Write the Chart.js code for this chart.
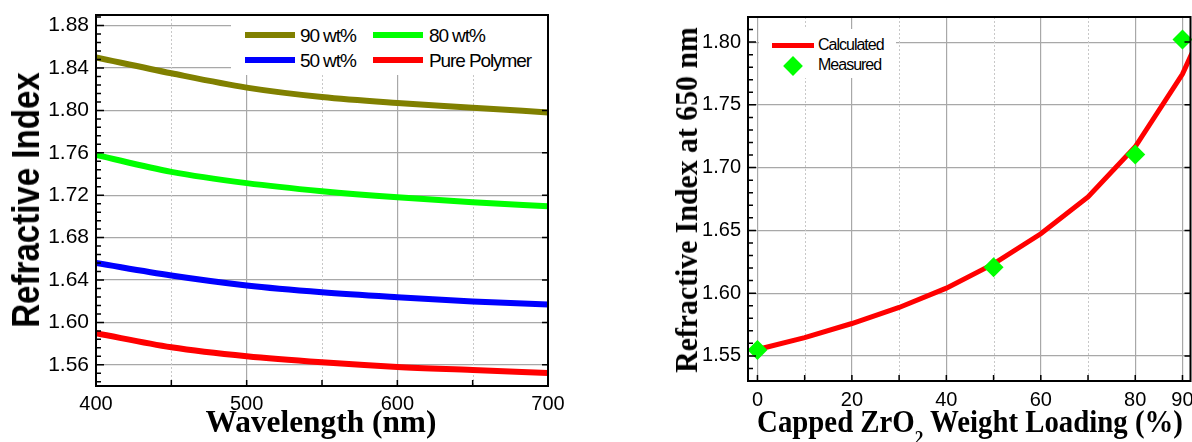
<!DOCTYPE html>
<html>
<head>
<meta charset="utf-8">
<script src="https://cdn.jsdelivr.net/npm/chart.js@4.4.1/dist/chart.umd.min.js"></script>
<style>
  body { margin: 0; background: #fff; width: 1192px; height: 442px; overflow: hidden; position: relative; font-family: "Liberation Sans", Arial, sans-serif; }
  canvas { position: absolute; top: 0; }
  #leftChart { left: 0; }
  #rightChart { left: 650px; }
  .title { position: absolute; white-space: nowrap; line-height: 1; font-weight: bold; color: #000; }
  .box { position: absolute; background: #fff; }
  .lbl { position: absolute; white-space: nowrap; line-height: 1; color: #000; }
  .sw { position: absolute; }
</style>
</head>
<body>
<canvas id="leftChart" width="600" height="442"></canvas>
<canvas id="rightChart" width="542" height="442"></canvas>

<div class="title" style="left:26px;top:200px;font-size:38px;transform:translate(-50%,-50%) rotate(-90deg) scaleX(.87)">Refractive Index</div>
<div class="title" style="left:321px;top:421px;font-size:32px;font-family:'Liberation Serif',serif;transform:translate(-50%,-50%) scaleX(.98)">Wavelength (nm)</div>
<div class="title" style="left:686px;top:200px;font-size:32px;font-family:'Liberation Serif',serif;transform:translate(-50%,-50%) rotate(-90deg) scaleX(.93)">Refractive Index at 650 nm</div>
<div class="title" style="left:970px;top:421px;font-size:32px;font-family:'Liberation Serif',serif;transform:translate(-50%,-50%) scaleX(.9)">Capped ZrO<span style="font-size:.6em;position:relative;top:.65em">2</span> Weight Loading (%)</div>

<div class="box" id="leftLegend" style="left:231px;top:16px;width:316px;height:59px"></div>
<div class="box" id="rightLegend" style="left:759px;top:29px;width:137px;height:49px"></div>

<script>
// left panel: dispersion curves
const wavelength = [400, 450, 500, 550, 600, 650, 700];
const wt90 = [1.850, 1.835, 1.8215, 1.8126, 1.807, 1.8026, 1.798];
const wt80 = [1.758, 1.742, 1.7314, 1.7238, 1.718, 1.7134, 1.7096];
const wt50 = [1.656, 1.6442, 1.6348, 1.6284, 1.6237, 1.6197, 1.6168];
const purePolymer = [1.5897, 1.5765, 1.568, 1.5623, 1.558, 1.5552, 1.5523];
const seriesLabels = ["90 wt%", "80 wt%", "50 wt%", "Pure Polymer"];
const seriesColors = ["#808000", "#00ff00", "#0000ff", "#ff0000"];
const waveTicks = [400, 450, 500, 550, 600, 650, 700];
const waveLabels = [400, 500, 600, 700];
const indexTicks = [1.56, 1.60, 1.64, 1.68, 1.72, 1.76, 1.80, 1.84, 1.88];

// right panel: index at 650 nm vs loading
const loading = [0, 10, 20, 30, 40, 50, 60, 70, 80, 90, 92];
const calculated = [1.5551, 1.5646, 1.5758, 1.5886, 1.604, 1.6233, 1.6473, 1.6766, 1.7166, 1.7745, 1.791];
const measuredLoading = [0, 50, 80, 90];
const measured = [1.5546, 1.6206, 1.7105, 1.802];
const loadTicks = [0, 10, 20, 30, 40, 50, 60, 70, 80, 90];
const loadLabels = [0, 20, 40, 60, 80, 90];
const index650Ticks = [1.55, 1.60, 1.65, 1.70, 1.75, 1.80];

Chart.defaults.font.family = "'Liberation Sans', Arial, sans-serif";
Chart.defaults.color = "#000";

const pts = (xs, ys) => xs.map((x, i) => ({ x: x, y: ys[i] }));

// frame, inward ticks and dotted minor grid
const frame = {
  id: "frame",
  beforeDatasetsDraw(chart, args, o) {
    const { ctx, chartArea: a, scales: { x } } = chart;
    ctx.save();
    ctx.strokeStyle = "#c8c8c8";
    ctx.lineWidth = 1;
    ctx.setLineDash([2, 2]);
    ctx.beginPath();
    o.dotted.forEach(v => {
      const px = Math.round(x.getPixelForValue(v)) + 0.5;
      ctx.moveTo(px, a.top);
      ctx.lineTo(px, a.bottom);
    });
    ctx.stroke();
    ctx.restore();
  },
  afterDraw(chart, args, o) {
    const { ctx, chartArea: a, scales: { x, y } } = chart;
    ctx.save();
    ctx.strokeStyle = "#000";
    ctx.lineWidth = 1.5;
    ctx.beginPath();
    for (let k = Math.ceil(y.min / o.yStep - 1e-6); k * o.yStep <= y.max + 1e-9; k++) {
      const py = y.getPixelForValue(k * o.yStep);
      ctx.moveTo(a.left, py);
      ctx.lineTo(a.left + 5, py);
    }
    y.ticks.forEach(t => {
      const py = y.getPixelForValue(t.value);
      ctx.moveTo(a.left, py); ctx.lineTo(a.left + 8, py);
      ctx.moveTo(a.right, py); ctx.lineTo(a.right - 6, py);
    });
    x.ticks.forEach(t => {
      const px = x.getPixelForValue(t.value);
      ctx.moveTo(px, a.bottom); ctx.lineTo(px, a.bottom - 6);
    });
    ctx.stroke();
    ctx.lineWidth = 2;
    ctx.strokeRect(a.left, a.top, a.right - a.left, a.bottom - a.top);
    ctx.restore();
  }
};

function axis(opts) {
  return {
    type: "linear",
    min: opts.min,
    max: opts.max,
    border: { display: false },
    grid: {
      drawTicks: false,
      lineWidth: 1.2,
      color: c => (!c.tick || opts.labels.includes(c.tick.value)) ? "#a8a8a8" : "rgba(0,0,0,0)"
    },
    ticks: {
      autoSkip: false,
      padding: opts.pad,
      font: { size: opts.size },
      callback: v => opts.labels.includes(v) ? (opts.fmt ? v.toFixed(2) : v) : ""
    },
    afterBuildTicks: s => { s.ticks = opts.ticks.map(v => ({ value: v })); },
    afterFit: s => {
      if (opts.width) s.width = opts.width;
      if (opts.height) s.height = opts.height;
      s.paddingLeft = s.paddingRight = s.paddingTop = s.paddingBottom = 0;
    }
  };
}

new Chart(document.getElementById("leftChart"), {
  type: "scatter",
  data: {
    datasets: [wt90, wt80, wt50, purePolymer].map((d, i) => ({
      label: seriesLabels[i],
      data: pts(wavelength, d),
      showLine: true,
      borderColor: seriesColors[i],
      borderWidth: 6,
      pointRadius: 0,
      cubicInterpolationMode: "monotone"
    }))
  },
  options: {
    responsive: false,
    devicePixelRatio: 1,
    animation: false,
    layout: { autoPadding: false, padding: { left: 0, right: 52, top: 15, bottom: 0 } },
    plugins: { legend: { display: false }, tooltip: { enabled: false }, frame: { dotted: [450, 550, 650], yStep: 0.008 } },
    scales: {
      x: axis({ min: 400, max: 700, ticks: waveTicks, labels: waveLabels, pad: 6, size: 20, height: 56 }),
      y: axis({ min: 1.54, max: 1.89, ticks: indexTicks, labels: indexTicks, pad: 7, size: 21, width: 96, fmt: true })
    }
  },
  plugins: [frame]
});

new Chart(document.getElementById("rightChart"), {
  type: "scatter",
  data: {
    datasets: [
      {
        label: "Measured",
        data: pts(measuredLoading, measured),
        pointStyle: "rectRot",
        pointRadius: 10,
        backgroundColor: "#00ff00",
        borderColor: "#00ff00",
        borderWidth: 0,
        clip: false
      },
      {
        label: "Calculated",
        data: pts(loading, calculated),
        showLine: true,
        borderColor: "#ff0000",
        borderWidth: 5,
        pointRadius: 0,
        tension: 0
      }
    ]
  },
  options: {
    responsive: false,
    devicePixelRatio: 1,
    animation: false,
    layout: { autoPadding: false, padding: { left: 0, right: 1.5, top: 17, bottom: 0 } },
    plugins: { legend: { display: false }, tooltip: { enabled: false }, frame: { dotted: [10, 30, 50, 70], yStep: 0.01 } },
    scales: {
      x: axis({ min: -2, max: 91.7, ticks: loadTicks, labels: loadLabels, pad: 7, size: 20, height: 61 }),
      y: axis({ min: 1.53, max: 1.82, ticks: index650Ticks, labels: index650Ticks, pad: 7, size: 20, width: 98, fmt: true })
    }
  },
  plugins: [frame]
});

// legends
function addLine(parent, x, y, w, h, color) {
  const d = document.createElement("div");
  d.className = "sw";
  d.style.cssText = `left:${x}px;top:${y - h / 2}px;width:${w}px;height:${h}px;background:${color}`;
  parent.appendChild(d);
}
function addText(parent, x, y, text, size, spacing) {
  const d = document.createElement("div");
  d.className = "lbl";
  d.textContent = text;
  d.style.cssText = `left:${x}px;top:${y - size / 2}px;font-size:${size}px;letter-spacing:${spacing}px`;
  parent.appendChild(d);
}

const leftLegend = document.getElementById("leftLegend");
seriesLabels.forEach((lab, i) => {
  const col = i % 2, row = Math.floor(i / 2);
  addLine(leftLegend, 14 + col * 128, 19 + row * 25, 50, 6, seriesColors[i]);
  addText(leftLegend, 69 + col * 129, 19 + row * 25, lab, 19, -1.1);
});

const rightLegend = document.getElementById("rightLegend");
addLine(rightLegend, 13, 16, 42, 5, "#ff0000");
addText(rightLegend, 59, 16, "Calculated", 16, -1);
const dia = document.createElement("div");
dia.className = "sw";
dia.style.cssText = "left:27px;top:30px;width:14px;height:14px;background:#00ff00;transform:rotate(45deg)";
rightLegend.appendChild(dia);
addText(rightLegend, 59, 36, "Measured", 16, -1);
</script>
</body>
</html>
